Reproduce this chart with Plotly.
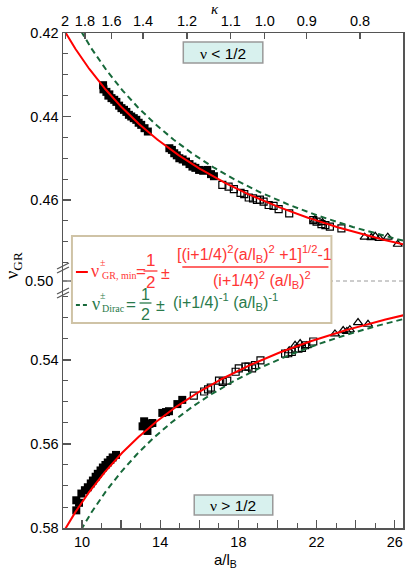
import numpy as np
import plotly.graph_objects as go

# ---------------- data ----------------
upper_filled_x = [11.08, 11.10, 11.25, 11.35, 11.40, 11.51, 11.65, 11.76, 11.90, 12.02, 12.15, 12.27,
                  12.40, 12.52, 12.65, 12.78, 12.90, 13.03, 13.20, 13.37,
                  14.47, 14.60, 14.72, 14.85, 14.98, 15.15, 15.32, 15.50, 15.65, 15.80, 15.99,
                  16.20, 16.41, 16.60, 16.75]
upper_filled_nu = [0.4325, 0.4335, 0.4341, 0.4350, 0.4347, 0.4356, 0.4360, 0.4365, 0.4374, 0.4380, 0.4384, 0.4389,
                   0.4396, 0.4400, 0.4404, 0.4408, 0.4415, 0.4420, 0.4428, 0.4436,
                   0.4476, 0.4480, 0.4488, 0.4493, 0.4500, 0.4503, 0.4508, 0.4514, 0.4520, 0.4523, 0.4528,
                   0.4530, 0.4528, 0.4538, 0.4543]

upper_open_x = [17.18, 17.50, 17.77, 18.11, 18.30, 18.53, 18.75, 18.95, 19.10, 19.29, 19.55, 19.80,
                20.06, 20.60, 21.83, 22.00, 22.25, 22.45, 22.68, 23.27]
upper_open_nu = [0.4564, 0.4568, 0.4574, 0.4583, 0.4586, 0.4594, 0.4596, 0.4600, 0.4599, 0.4604, 0.4612, 0.4614,
                 0.4622, 0.4632, 0.4648, 0.4652, 0.4658, 0.4660, 0.4664, 0.4668]

upper_tri_x = [21.90, 22.30, 24.46, 24.80, 25.00, 25.22, 25.64, 26.15]
upper_tri_nu = [0.4648, 0.4654, 0.4689, 0.4690, 0.4687, 0.4692, 0.4689, 0.4706]

lower_filled_x = [9.71, 9.71, 9.85, 9.97, 10.15, 10.30, 10.45, 10.56, 10.70, 10.81, 10.95, 11.07,
                  11.20, 11.32, 11.45, 11.57, 11.74,
                  13.10, 13.18, 13.35, 13.45, 13.60, 14.11, 14.30, 14.45, 14.88, 15.13]
lower_filled_nu = [0.5758, 0.5734, 0.5740, 0.5718, 0.5710, 0.5703, 0.5694, 0.5687, 0.5678, 0.5671, 0.5663, 0.5656,
                   0.5650, 0.5644, 0.5638, 0.5632, 0.5626,
                   0.5558, 0.5546, 0.5569, 0.5552, 0.5550, 0.5526, 0.5524, 0.5522, 0.5505, 0.5495]

lower_open_x = [15.72, 16.25, 16.45, 16.59, 17.01, 17.20, 17.43, 17.86, 18.02, 18.36, 18.52, 18.70,
                18.85, 19.13, 20.39, 20.55, 20.73, 21.07, 21.25, 21.41, 21.83]
lower_open_nu = [0.5485, 0.5475, 0.5470, 0.5466, 0.5449, 0.5452, 0.5449, 0.5428, 0.5420, 0.5416, 0.5416, 0.5420,
                 0.5412, 0.5401, 0.5385, 0.5384, 0.5381, 0.5373, 0.5371, 0.5365, 0.5356]

lower_tri_x = [20.60, 20.90, 21.16, 21.50, 22.94, 23.36, 23.55, 23.70, 24.12, 24.63]
lower_tri_nu = [0.5378, 0.5365, 0.5361, 0.5366, 0.5338, 0.5330, 0.5332, 0.5328, 0.5311, 0.5315]

# top axis: kappa labels and where they sit on the a/l_B scale
kappa_labels = ["2", "1.8", "1.6", "1.4", "1.2", "1.1", "1.0", "0.9", "0.8"]
kappa_pos = [9.14, 10.15, 11.51, 13.12, 15.37, 17.61, 19.35, 21.50, 24.22]

x_tickvals = [10, 12, 14, 16, 18, 20, 22, 24, 26]
x_ticktext = ["10", "", "14", "", "18", "", "22", "", "26"]
y_top_ticks = [0.42, 0.44, 0.46]
y_bot_ticks = [0.54, 0.56, 0.58]

i_level = 1  # Landau index in the formulas

# ---------------- theory curves ----------------
xs = np.linspace(9.0, 26.6, 500)
u = (i_level + 0.25) * xs
d_gr = (np.sqrt(u ** 2 + 1) - 1) / u ** 2
d_dirac = 1.0 / u

# ---------------- geometry ----------------
W, H = 407, 574
L, R, T, B = 63, 2, 33, 46
PW, PH = W - L - R, H - T - B


def fx(px):
    return (px - L) / PW


def fy(py):
    return (H - B - py) / PH


YBREAK = 281
dsplit = fy(YBREAK)

RED = "#ff0000"
GREEN = "#17693a"
RED_T = "#ff3535"
GREEN_T = "#2a7a4b"
SANS = "Liberation Sans, Arial, Helvetica, sans-serif"
SERIF = "Liberation Serif, Times New Roman, serif"
AX = "#555555"

fig = go.Figure()

filled = dict(symbol="square", size=8, color="black", line=dict(width=0))
opensq = dict(symbol="square-open", size=7, color="black", line=dict(width=1.2))
opentri = dict(symbol="triangle-up-open", size=8, color="black", line=dict(width=1.2))

for xv, yv, mk, ax in [
    (upper_filled_x, upper_filled_nu, filled, "y"),
    (upper_open_x, upper_open_nu, opensq, "y"),
    (upper_tri_x, upper_tri_nu, opentri, "y"),
    (lower_filled_x, lower_filled_nu, filled, "y2"),
    (lower_open_x, lower_open_nu, opensq, "y2"),
    (lower_tri_x, lower_tri_nu, opentri, "y2"),
]:
    fig.add_trace(go.Scatter(x=xv, y=yv, mode="markers", marker=mk, xaxis="x", yaxis=ax, cliponaxis=False))

# theory curves (drawn over the points)
fig.add_trace(go.Scatter(x=xs, y=0.5 - d_dirac, mode="lines", line=dict(color=GREEN, width=2, dash="6px,4px"),
                         xaxis="x", yaxis="y"))
fig.add_trace(go.Scatter(x=xs, y=0.5 - d_gr, mode="lines", line=dict(color=RED, width=2),
                         xaxis="x", yaxis="y"))
fig.add_trace(go.Scatter(x=xs, y=0.5 + d_dirac, mode="lines", line=dict(color=GREEN, width=2, dash="6px,4px"),
                         xaxis="x", yaxis="y2"))
fig.add_trace(go.Scatter(x=xs, y=0.5 + d_gr, mode="lines", line=dict(color=RED, width=2),
                         xaxis="x", yaxis="y2"))

# invisible anchor trace for the kappa axis
fig.add_trace(go.Scatter(x=[kappa_pos[0]], y=[0.45], mode="markers", marker=dict(opacity=0),
                         xaxis="x2", yaxis="y"))

XR = [9.03, 26.42]
tickfont = dict(family=SANS, size=14.5, color="black")

fig.update_layout(
    width=W, height=H, margin=dict(l=L, r=R, t=T, b=B),
    paper_bgcolor="white", plot_bgcolor="white", showlegend=False, hovermode=False,
    xaxis=dict(domain=[0, 1], range=XR, anchor="y2", showgrid=False, zeroline=False,
               showline=True, linecolor=AX, linewidth=1.5,
               tickmode="array", tickvals=x_tickvals, ticktext=x_ticktext,
               ticks="inside", ticklen=8, tickcolor=AX, tickwidth=1.2, tickfont=tickfont,
               minor=dict(tickmode="linear", tick0=10, dtick=1, ticks="inside", ticklen=5,
                          tickcolor=AX, tickwidth=1)),
    xaxis2=dict(overlaying="x", side="top", anchor="y", range=XR, showgrid=False, zeroline=False,
                showline=True, linecolor=AX, linewidth=1.5,
                tickmode="array", tickvals=kappa_pos, ticktext=kappa_labels,
                ticks="inside", ticklen=6, tickcolor=AX, tickwidth=1.2, tickfont=tickfont),
    yaxis=dict(domain=[dsplit, 1], range=[0.4794, 0.42], anchor="x", showgrid=False, zeroline=False,
               showline=True, mirror=True, linecolor=AX, linewidth=1.5,
               tickmode="array", tickvals=y_top_ticks, ticktext=["0.42", "0.44", "0.46"],
               ticks="inside", ticklen=8, tickcolor=AX, tickwidth=1.2, tickfont=tickfont,
               minor=dict(tickmode="linear", tick0=0.42, dtick=0.005, ticks="inside", ticklen=5,
                          tickcolor=AX, tickwidth=1)),
    yaxis2=dict(domain=[0, dsplit], range=[0.58, 0.5212], anchor="x", showgrid=False, zeroline=False,
                showline=True, mirror=True, linecolor=AX, linewidth=1.5,
                tickmode="array", tickvals=y_bot_ticks, ticktext=["0.54", "0.56", "0.58"],
                ticks="inside", ticklen=8, tickcolor=AX, tickwidth=1.2, tickfont=tickfont,
                minor=dict(tickmode="linear", tick0=0.58, dtick=0.005, ticks="inside", ticklen=5,
                           tickcolor=AX, tickwidth=1)),
)

shapes = []
ann = []


def line(x0, y0, x1, y1, color, width=1.5, dash=None):
    d = dict(type="line", xref="paper", yref="paper", x0=fx(x0), y0=fy(y0), x1=fx(x1), y1=fy(y1),
             line=dict(color=color, width=width))
    if dash:
        d["line"]["dash"] = dash
    shapes.append(d)


def rect(x0, y0, x1, y1, fill, color, width=1.5):
    shapes.append(dict(type="rect", xref="paper", yref="paper", x0=fx(x0), y0=fy(y1), x1=fx(x1), y1=fy(y0),
                       fillcolor=fill, line=dict(color=color, width=width), layer="above"))


def text(x, y, t, size, color="black", family=SANS, xanchor="center", angle=0):
    ann.append(dict(xref="paper", yref="paper", x=fx(x), y=fy(y), text=t, showarrow=False,
                    xanchor=xanchor, yanchor="middle", textangle=angle,
                    font=dict(family=family, size=size, color=color)))


# dashed line at nu = 0.50
line(L, YBREAK, W - R, YBREAK, "#9a9a9a", 1, "4px,3px")
# 0.50 tick and label
line(L, YBREAK, L + 8, YBREAK, AX, 1.2)
text(55, YBREAK, "0.50", 14.5, xanchor="right")
# axis break marks
for yb in (267, 292):
    line(57, yb + 2, 69, yb - 4, AX, 1.2)
    line(57, yb + 6, 69, yb, AX, 1.2)

# formula box
rect(72, 236, 333, 323, "white", "#cfc3a6", 2)
# line 1 (red)
line(76, 272, 88, 272, RED, 2)
text(95, 271, "ν", 18, RED_T, SERIF)
text(103, 262, "±", 10, RED_T, SERIF)
text(100, 275, "GR, min", 10, RED_T, SERIF, xanchor="left")
text(141, 271, "=", 17, RED_T)
text(151, 260, "1", 17, RED_T)
line(144, 271, 158, 271, RED_T, 1.3)
text(151, 282, "2", 17, RED_T)
text(166, 273, "±", 16, RED_T)
text(256, 254, "[(i+1/4)<sup>2</sup>(a/l<sub>B</sub>)<sup>2</sup> +1]<sup>1/2</sup>-1", 16, RED_T)
line(183, 267, 330, 267, RED_T, 1.3)
text(263, 280, "(i+1/4)<sup>2</sup> (a/l<sub>B</sub>)<sup>2</sup>", 16, RED_T)
# line 2 (green)
line(76, 305, 88, 305, GREEN, 2, "4px,3px")
text(96, 304, "ν", 18, GREEN_T, SERIF)
text(103, 295, "±", 10, GREEN_T, SERIF)
text(100, 308, "Dirac", 10, GREEN_T, SERIF, xanchor="left")
text(131, 304, "=", 17, GREEN_T)
text(146, 294, "1", 16, GREEN_T)
line(140, 303, 152, 303, GREEN_T, 1.3)
text(146, 314, "2", 16, GREEN_T)
text(161, 305, "±", 16, GREEN_T)
text(226, 302, "(i+1/4)<sup>-1</sup> (a/l<sub>B</sub>)<sup>-1</sup>", 16, GREEN_T)

# region labels
rect(184, 42, 264, 63, "#d8f1ee", "#999999", 1.5)
text(224, 53, "<span style='font-family:Liberation Serif'>ν</span> &lt; 1/2", 15.5)
rect(195, 495, 274, 515, "#d8f1ee", "#999999", 1.5)
text(234, 505, "<span style='font-family:Liberation Serif'>ν</span> &gt; 1/2", 15.5)

# axis titles
text(226, 560, "a/l<sub>B</sub>", 15)
text(216, 9, "<i>κ</i>", 15, family=SERIF)
text(13, 266, "ν<sub>GR</sub>", 19, family=SERIF, angle=-90)

fig.update_layout(shapes=shapes, annotations=ann)
fig.write_html("out.html", config={"displayModeBar": False, "staticPlot": True},
               post_script="document.body.style.margin='0';document.body.style.overflow='hidden';")
